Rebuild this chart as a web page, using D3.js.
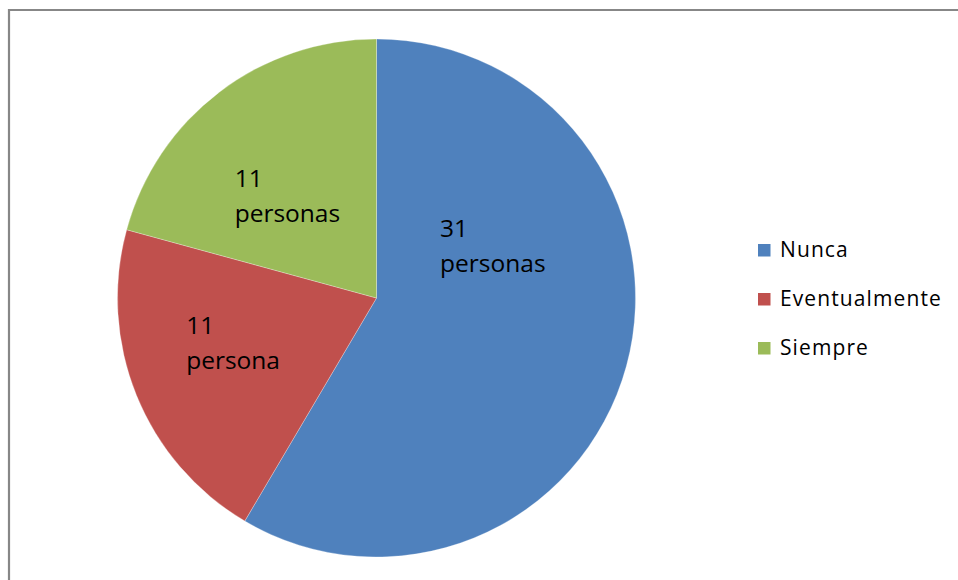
<!DOCTYPE html>
<html>
<head>
<meta charset="utf-8">
<script src="https://cdn.jsdelivr.net/npm/d3@7"></script>
<style>
  html, body { margin: 0; padding: 0; background: #fff; }
  svg { display: block; }
  text { font-family: "Open Sans", "DejaVu Sans", sans-serif; fill: #000; }
</style>
</head>
<body>
<svg id="chart" width="958" height="580"></svg>
<script>
// Survey answers and the number of people for each
const categories = ["Nunca", "Eventualmente", "Siempre"];
const values = [31, 11, 11];
const labelLines = [["31", "personas"], ["11", "persona"], ["11", "personas"]];
const colors = ["#4F81BD", "#C0504D", "#9BBB59"];

const svg = d3.select("#chart");
const W = 958, H = 580;

// Chart frame (only top and left edges fall inside the page)
svg.append("path")
  .attr("d", `M9,${H} V10 H${W}`)
  .attr("fill", "none")
  .attr("stroke", "#878787")
  .attr("stroke-width", 2.2);

const cx = 376.5, cy = 298, R = 259;

const pie = d3.pie().sort(null).value(d => d)(values);
const arc = d3.arc().innerRadius(0).outerRadius(R);

const g = svg.append("g").attr("transform", `translate(${cx},${cy})`);

g.selectAll("path.slice")
  .data(pie)
  .join("path")
  .attr("class", "slice")
  .attr("d", arc)
  .attr("fill", (d, i) => colors[i])
  .attr("stroke", "#ffffff")
  .attr("stroke-opacity", 0.35)
  .attr("stroke-width", 0.8);

// Data labels: placed inside each slice at a per-slice angle / radius,
// text left-aligned from that anchor
const labelPlacement = [
  { angle: 65.6, radius: 128, dx: -53 },
  { angle: 252.9, radius: 150, dx: -47 },
  { angle: 319.2, radius: 136, dx: -53 }
];

const lineGap = 35;
pie.forEach((d, i) => {
  const p = labelPlacement[i];
  const a = p.angle * Math.PI / 180;
  const ax = Math.sin(a) * p.radius;
  const ay = -Math.cos(a) * p.radius;
  const t = g.append("text")
    .attr("font-size", 24.5)
    .attr("x", ax + p.dx)
    .attr("y", ay - 8);
  labelLines[i].forEach((line, j) => {
    t.append("tspan")
      .attr("x", ax + p.dx)
      .attr("y", ay - 8 + j * lineGap)
      .text(line);
  });
});

// Legend
const legend = svg.append("g").attr("transform", "translate(758,244)");
const rowGap = 49;
categories.forEach((c, i) => {
  const row = legend.append("g").attr("transform", `translate(0,${i * rowGap})`);
  row.append("rect")
    .attr("x", 0).attr("y", 0)
    .attr("width", 12.5).attr("height", 12.5)
    .attr("fill", colors[i]);
  row.append("text")
    .attr("x", 22)
    .attr("y", 12.8)
    .attr("font-size", 21)
    .attr("letter-spacing", 1.1)
    .text(c);
});
</script>
</body>
</html>
